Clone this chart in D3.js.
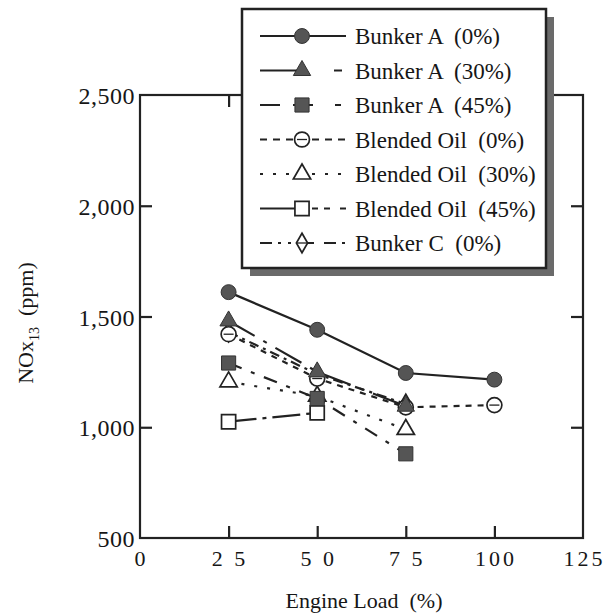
<!DOCTYPE html>
<html>
<head>
<title>NOx vs Engine Load</title>
<script src="https://d3js.org/d3.v7.min.js" charset="utf-8"></script>
<style>
  body { margin: 0; background: white; }
  text { font-family: "Liberation Serif", "DejaVu Serif", serif; fill: #161616; }
</style>
</head>
<body>
<script>
// data
var loads = [25, 50, 75, 100];
var bunkerA0 = [1610, 1440, 1245, 1215];
var bunkerA30 = [1480, 1250, 1095];
var bunkerA45 = [1290, 1130, 880];
var blended0 = [1420, 1220, 1090, 1100];
var blended30 = [1205, 1140, 990];
var blended45 = [1025, 1065];
var bunkerC0 = [1430, 1240, 1105];

var seriesNames = ["Bunker A  (0%)", "Bunker A  (30%)", "Bunker A  (45%)",
  "Blended Oil  (0%)", "Blended Oil  (30%)", "Blended Oil  (45%)", "Bunker C  (0%)"];
var seriesValues = [bunkerA0, bunkerA30, bunkerA45, blended0, blended30, blended45, bunkerC0];
var seriesSymbols = ["circle", "triangle", "square", "circle", "triangle", "square", "diamond"];
var seriesFilled = [true, true, true, false, false, false, false];
var seriesDash = ["none", "30,10,4,10", "14,10,4,10", "6,6", "3,10", "28,6,4,6", "10,5,3,5"];
var legendDash = ["none", "40,34,8,10", "20,13,20,22,6,10", "7,6", "3,10", "40,12,6,6,6,10", "12,6,3,7,3,7,3,7,6,10"];

var xTicks = [0, 25, 50, 75, 100, 125];
var xTickLabels = ["0", "2 5", "5 0", "7 5", "100", "125"];
var yTicks = [500, 1000, 1500, 2000, 2500];
var yTickLabels = ["500", "1,000", "1,500", "2,000", "2,500"];

var width = 609, height = 615;
var svg = d3.select("body").append("svg").attr("width", width).attr("height", height);

var x = d3.scaleLinear().domain([0, 125]).range([140, 583]);
var y = d3.scaleLinear().domain([500, 2500]).range([538, 95]);

var ink = "#222";

// frame
svg.append("rect")
  .attr("x", x(0)).attr("y", y(2500))
  .attr("width", x(125) - x(0)).attr("height", y(500) - y(2500))
  .attr("fill", "none").attr("stroke", ink).attr("stroke-width", 2.2);

// inward ticks
var axBottom = svg.append("g").attr("transform", "translate(0," + y(500) + ")")
  .call(d3.axisBottom(x).tickValues(xTicks.slice(1, 5)).tickSizeInner(-12).tickSizeOuter(0).tickFormat(""));
var axTop = svg.append("g").attr("transform", "translate(0," + y(2500) + ")")
  .call(d3.axisTop(x).tickValues(xTicks.slice(1, 5)).tickSizeInner(-12).tickSizeOuter(0).tickFormat(""));
var axLeft = svg.append("g").attr("transform", "translate(" + x(0) + ",0)")
  .call(d3.axisLeft(y).tickValues(yTicks.slice(1, 4)).tickSizeInner(-12).tickSizeOuter(0).tickFormat(""));
var axRight = svg.append("g").attr("transform", "translate(" + x(125) + ",0)")
  .call(d3.axisRight(y).tickValues(yTicks.slice(1, 4)).tickSizeInner(-12).tickSizeOuter(0).tickFormat(""));
[axBottom, axTop, axLeft, axRight].forEach(function(g) {
  g.select(".domain").remove();
  g.selectAll("line").attr("stroke", ink).attr("stroke-width", 2.2);
});

// tick labels
svg.selectAll(".xlab").data(xTicks).enter().append("text")
  .attr("class", "xlab")
  .attr("x", function(d) { return x(d) + 1.5; })
  .attr("y", 566)
  .attr("text-anchor", "middle")
  .attr("font-size", 22)
  .style("white-space", "pre")
  .attr("letter-spacing", 3)
  .text(function(d, i) { return xTickLabels[i]; });

svg.selectAll(".ylab").data(yTicks).enter().append("text")
  .attr("class", "ylab")
  .attr("x", 135)
  .attr("y", function(d) { return y(d) + 9; })
  .attr("text-anchor", "end")
  .attr("font-size", 24)
  .attr("letter-spacing", 0.5)
  .text(function(d, i) { return yTickLabels[i]; });

// axis titles
svg.append("text")
  .attr("x", 364).attr("y", 608)
  .attr("text-anchor", "middle")
  .attr("font-size", 22)
  .style("white-space", "pre")
  .text("Engine Load  (%)");

var yt = svg.append("text")
  .attr("transform", "translate(33,323) rotate(-90)")
  .attr("text-anchor", "middle")
  .attr("font-size", 22)
  .style("white-space", "pre");
yt.append("tspan").text("NOx");
yt.append("tspan").attr("font-size", 14).attr("dy", 6).text("13");
yt.append("tspan").attr("dy", -6).text("  (ppm)");

// marker drawing
function symbolPath(kind) {
  var t = { circle: d3.symbolCircle, triangle: d3.symbolTriangle, square: d3.symbolSquare, diamond: d3.symbolDiamond }[kind];
  var size = { circle: 175, triangle: 130, square: 200, diamond: 110 }[kind];
  return d3.symbol().type(t).size(size)();
}

function drawMarker(g, cx, cy, i) {
  var m = g.append("g").attr("transform", "translate(" + cx + "," + cy + ")");
  m.append("path")
    .attr("d", symbolPath(seriesSymbols[i]))
    .attr("fill", seriesFilled[i] ? "#555" : "white")
    .attr("stroke", seriesFilled[i] ? "#333" : ink)
    .attr("stroke-width", seriesFilled[i] ? 1 : 1.7);
  if (i === 3 || i === 6) {
    // bar across the open circle and diamond
    m.append("line").attr("x1", -5).attr("x2", 5).attr("stroke", ink).attr("stroke-width", 1.3);
  }
}

var line = d3.line()
  .x(function(d, i) { return x(loads[i]); })
  .y(function(d) { return y(d); });

var plot = svg.append("g");
// draw in reverse so Bunker A sits on top
for (var i = seriesValues.length - 1; i >= 0; i--) {
  plot.append("path")
    .datum(seriesValues[i])
    .attr("d", line)
    .attr("fill", "none")
    .attr("stroke", ink)
    .attr("stroke-width", 2.2)
    .attr("stroke-dasharray", seriesDash[i]);
}
for (var i = seriesValues.length - 1; i >= 0; i--) {
  seriesValues[i].forEach(function(v, j) {
    drawMarker(plot, x(loads[j]), y(v), i);
  });
}

// legend
var lg = svg.append("g");
lg.append("rect").attr("x", 250).attr("y", 17).attr("width", 304).attr("height", 259).attr("fill", "#6a6a6a");
lg.append("rect").attr("x", 242).attr("y", 9).attr("width", 304).attr("height", 259)
  .attr("fill", "white").attr("stroke", ink).attr("stroke-width", 2.5);

var rowY = d3.scaleLinear().domain([0, 6]).range([36, 243]);
seriesNames.forEach(function(name, i) {
  var ry = rowY(i);
  lg.append("line")
    .attr("x1", 260).attr("x2", 346).attr("y1", ry).attr("y2", ry)
    .attr("stroke", ink).attr("stroke-width", 2)
    .attr("stroke-dasharray", legendDash[i]);
  drawMarker(lg, 302, ry, i);
  lg.append("text")
    .attr("x", 355).attr("y", ry + 8)
    .attr("font-size", 23)
    .style("white-space", "pre")
    .text(name);
});
</script>
</body>
</html>
